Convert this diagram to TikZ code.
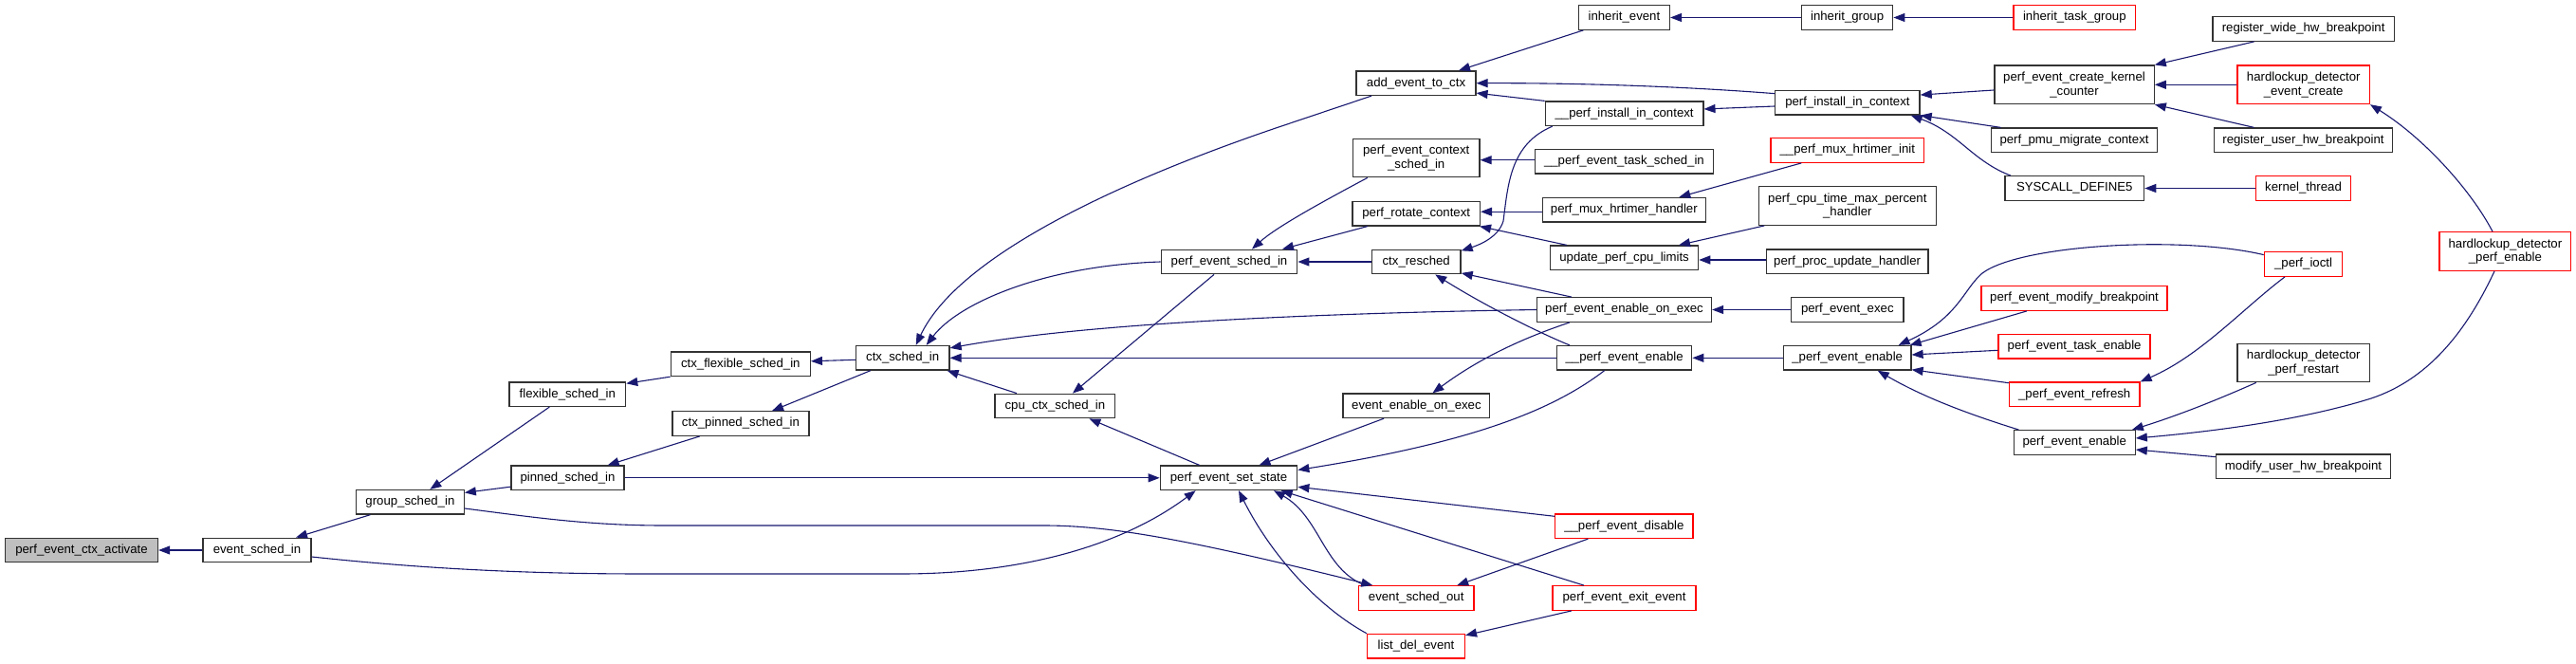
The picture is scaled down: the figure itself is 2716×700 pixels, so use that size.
\documentclass[tikz,border=0pt]{standalone}
\usepackage{fontspec}
\setmainfont{Liberation Sans}
\usetikzlibrary{arrows.meta}
\definecolor{edgecol}{HTML}{191970}
\definecolor{rootgray}{HTML}{BFBFBF}
\definecolor{boxline}{HTML}{333333}
\definecolor{redline}{HTML}{FF0000}
\begin{document}
\begin{tikzpicture}[x=1pt,y=-1pt,
  box/.style={draw=boxline, line width=1.3pt, fill=white, minimum height=25.5pt, inner sep=0pt,
     font=\fontsize{13.2}{14.5}\selectfont, text=black},
  redbox/.style={box, draw=redline},
  rootbox/.style={box, fill=rootgray},
  two/.style={minimum height=40.5pt, align=center},
  edge/.style={draw=edgecol, line width=1.1pt, -{Triangle[length=12pt,width=9pt]}}]
\useasboundingbox (0,0) rectangle (2716,700);
% column 1-8
\node[rootbox, minimum width=161pt] (act) at (86,580) {perf\_event\_ctx\_activate};
\node[box, minimum width=114pt] (esi) at (271,580) {event\_sched\_in};
\node[box, minimum width=113.6pt] (gsi) at (432.4,529.3) {group\_sched\_in};
\node[box, minimum width=122.7pt] (fsi) at (598.3,415.7) {flexible\_sched\_in};
\node[box, minimum width=119pt] (psi) at (598.5,503.8) {pinned\_sched\_in};
\node[box, minimum width=147pt] (cfsi) at (780.8,383.8) {ctx\_flexible\_sched\_in};
\node[box, minimum width=144pt] (cpsi) at (781,446.5) {ctx\_pinned\_sched\_in};
\node[box, minimum width=98.5pt] (csi) at (951.7,377.3) {ctx\_sched\_in};
\node[box, minimum width=126.6pt] (ccsi) at (1112.4,428) {cpu\_ctx\_sched\_in};
\node[box, minimum width=143.5pt] (pess) at (1296,276) {perf\_event\_sched\_in};
\node[box, minimum width=144.4pt] (pest) at (1295.5,503.8) {perf\_event\_set\_state};
% column 9
\node[box, minimum width=125.8pt] (aetc) at (1493,87.7) {add\_event\_to\_ctx};
\node[box, two, minimum width=133.6pt] (pecsi) at (1493.2,166.5) {perf\_event\_context\\\_sched\_in};
\node[box, minimum width=134.4pt] (prc) at (1493.2,225.2) {perf\_rotate\_context};
\node[box, minimum width=93.7pt] (cr) at (1493.2,276) {ctx\_resched};
\node[box, minimum width=154.8pt] (eeoe) at (1493.4,427.8) {event\_enable\_on\_exec};
\node[redbox, minimum width=121.5pt] (eso) at (1493.2,630.5) {event\_sched\_out};
\node[redbox, minimum width=102.8pt] (lde) at (1493,681.2) {list\_del\_event};
% column 10
\node[box, minimum width=96pt] (ie) at (1712.4,18.5) {inherit\_event};
\node[box, minimum width=166.5pt] (upic) at (1712.6,119.8) {\_\_perf\_install\_in\_context};
\node[box, minimum width=187.8pt] (petsi) at (1712.4,170.3) {\_\_perf\_event\_task\_sched\_in};
\node[box, minimum width=172pt] (pmhh) at (1712.3,221.2) {perf\_mux\_hrtimer\_handler};
\node[box, minimum width=156pt] (upcl) at (1712.6,271.8) {update\_perf\_cpu\_limits};
\node[box, minimum width=184pt] (peeoe) at (1712.5,326.5) {perf\_event\_enable\_on\_exec};
\node[box, minimum width=142.2pt] (upee) at (1712.6,377.3) {\_\_perf\_event\_enable};
\node[redbox, minimum width=145.3pt] (upedis) at (1712.4,554.7) {\_\_perf\_event\_disable};
\node[redbox, minimum width=151pt] (peee) at (1712.5,630.5) {perf\_event\_exit\_event};
% column 11
\node[box, minimum width=96.3pt] (ig) at (1947.6,18.5) {inherit\_group};
\node[box, minimum width=152.3pt] (pic) at (1947.9,108.2) {perf\_install\_in\_context};
\node[redbox, minimum width=161.7pt] (pmhi) at (1947.8,158.5) {\_\_perf\_mux\_hrtimer\_init};
\node[box, two, minimum width=186.8pt] (pctmph) at (1947.8,217) {perf\_cpu\_time\_max\_percent\\\_handler};
\node[box, minimum width=170.8pt] (ppuh) at (1947.6,275.8) {perf\_proc\_update\_handler};
\node[box, minimum width=118.4pt] (pee) at (1947.8,326.5) {perf\_event\_exec};
\node[box, minimum width=134.5pt] (pee2) at (1947.7,377.3) {\_perf\_event\_enable};
% column 12
\node[redbox, minimum width=128.4pt] (itg) at (2187.3,18.5) {inherit\_task\_group};
\node[box, two, minimum width=168.3pt] (peckc) at (2187,89.3) {perf\_event\_create\_kernel\\\_counter};
\node[box, minimum width=175.6pt] (ppmc) at (2187,147.8) {perf\_pmu\_migrate\_context};
\node[box, minimum width=146.6pt] (sd5) at (2187.3,198.5) {SYSCALL\_DEFINE5};
\node[redbox, minimum width=196pt] (pemb) at (2187,314.5) {perf\_event\_modify\_breakpoint};
\node[redbox, minimum width=160pt] (pete) at (2187.1,365.3) {perf\_event\_task\_enable};
\node[redbox, minimum width=137.5pt] (per) at (2187.2,415.8) {\_perf\_event\_refresh};
\node[box, minimum width=128pt] (pe) at (2187.2,466.5) {perf\_event\_enable};
% column 13
\node[box, minimum width=191.3pt] (rwhb) at (2428.6,30.5) {register\_wide\_hw\_breakpoint};
\node[redbox, two, minimum width=139.2pt] (hdec) at (2428.7,89.3) {hardlockup\_detector\\\_event\_create};
\node[box, minimum width=188.2pt] (ruhb) at (2428.5,147.8) {register\_user\_hw\_breakpoint};
\node[redbox, minimum width=99.7pt] (kt) at (2428.5,198.5) {kernel\_thread};
\node[redbox, minimum width=82.4pt] (pio) at (2428.5,278.5) {\_perf\_ioctl};
\node[box, two, minimum width=139.2pt] (hdpr) at (2428.7,382.5) {hardlockup\_detector\\\_perf\_restart};
\node[box, minimum width=184pt] (muhb) at (2428.5,491.8) {modify\_user\_hw\_breakpoint};
% column 14
\node[redbox, two, minimum width=138.8pt] (hdpe) at (2641.4,265) {hardlockup\_detector\\\_perf\_enable};

% edges (arrow at callee)
\draw[edge] (esi.west) -- (act.east);
\draw[edge] ([xshift=-42pt]gsi.south) -- ([xshift=41pt]esi.north);
\draw[edge] ([xshift=-19pt]fsi.south) -- ([xshift=21pt]gsi.north);
\draw[edge] ([yshift=4pt]psi.south west) -- ([yshift=-3.5pt]gsi.north east);
\draw[edge] (cfsi.south west) -- ([yshift=-2pt]fsi.north east);
\draw[edge] ([xshift=29.5pt]cpsi.south west) -- ([xshift=-18pt]psi.north east);
\draw[edge] (psi.east) -- (pest.west);
\draw[edge] ([yshift=-7pt]esi.east) .. controls (450,600) and (560,605) .. (680,605) -- (950,605)
   .. controls (1090,605) and (1190,570) .. ([xshift=38pt]pest.south west);
\draw[edge] ([yshift=-6.7pt]gsi.east) .. controls (560,545) and (620,554) .. (700,554) -- (1100,554)
   .. controls (1170,554) and (1250,568) .. ([xshift=15.5pt]eso.north west);
\draw[edge] ([yshift=-2pt]csi.west) -- ([yshift=3pt]cfsi.east);
\draw[edge] ([xshift=16pt]csi.south west) -- ([xshift=33pt]cpsi.north);
\draw[edge] ([xshift=23.5pt]ccsi.north west) -- ([xshift=-3pt]csi.south east);
\draw[edge] ([xshift=-16pt]pess.south) -- ([xshift=18.5pt]ccsi.north);
\draw[edge] ([xshift=42pt]pest.north west) -- ([xshift=36pt]ccsi.south);
\draw[edge] (upee.west) -- (csi.east);
\draw[edge] ([xshift=16.6pt]aetc.south west) -- (1360,130) .. controls (1180,190) and (1010,270) .. ([xshift=14pt]csi.north);
\draw[edge] (pess.west) .. controls (1100,280) and (1010,320) .. ([xshift=25pt]csi.north);
\draw[edge] (peeoe.west) .. controls (1400,330) and (1150,340) .. ([yshift=-3pt]csi.north east);
\draw[edge] ([xshift=16pt]pecsi.south west) .. controls (1390,215) and (1345,240) .. ([xshift=24pt]pess.north);
\draw[edge] ([xshift=16.4pt]prc.south west) -- ([xshift=56pt]pess.north);
\draw[edge] (cr.west) -- (pess.east);
\draw[edge] ([xshift=5.6pt]ie.south west) -- ([xshift=45pt]aetc.north);
\draw[edge] (ig.west) -- (ie.east);
\draw[edge] (itg.west) -- (ig.east);
\draw[edge] ([yshift=-3.85pt]pic.north west) .. controls (1760,90) and (1650,87.5) .. (aetc.east);
\draw[edge] (upic.north west) -- ([yshift=3pt]aetc.south east);
\draw[edge] ([yshift=-3.8pt]pic.west) -- ([yshift=4.8pt]upic.east);
\draw[edge] ([xshift=8pt]upic.south west) .. controls (1592,152) and (1590,195) .. (1585,233)
   .. controls (1580,250) and (1560,258) .. ([yshift=-1.75pt]cr.north east);
\draw[edge] ([yshift=1.6pt]petsi.west) -- ([yshift=-2.2pt]pecsi.east);
\draw[edge] ([yshift=-2pt]pmhh.west) -- ([yshift=2pt]prc.east);
\draw[edge] ([xshift=33pt]pmhi.south west) -- ([xshift=58pt]pmhh.north);
\draw[edge] ([xshift=18pt]upcl.north west) -- ([xshift=-1pt]prc.south east);
\draw[edge] ([xshift=6.6pt]pctmph.south west) -- ([xshift=57.4pt]upcl.north);
\draw[edge] ([yshift=1.8pt]ppuh.west) -- ([yshift=-2.2pt]upcl.east);
\draw[edge] ([yshift=-5.7pt]peckc.west) -- ([yshift=-5.25pt]pic.north east);
\draw[edge] ([xshift=11pt]ppmc.north west) -- (pic.south east);
\draw[edge] ([xshift=6.6pt]sd5.north west) .. controls (2080,170) and (2065,140) .. ([xshift=-10pt]pic.south east);
\draw[edge] ([xshift=-55.5pt]peeoe.north) -- ([yshift=1.5pt]cr.south east);
\draw[edge] ([xshift=-57.6pt]upee.north) .. controls (1630,354) and (1570,325) .. ([xshift=20pt]cr.south);
\draw[edge] (pee.west) -- (peeoe.east);
\draw[edge] ([xshift=-57.5pt]peeoe.south) .. controls (1625,350) and (1570,370) .. ([xshift=17pt]eeoe.north);
\draw[edge] (pee2.west) -- (upee.east);
\draw[edge] ([xshift=43.7pt]eeoe.south west) -- ([xshift=32pt]pest.north);
\draw[edge] ([xshift=-21pt]upee.south) .. controls (1640,430) and (1560,465) .. ([yshift=8.3pt]pest.east);
\draw[edge] ([yshift=-3pt]upedis.north west) -- ([yshift=-9.5pt]pest.east);
\draw[edge] ([xshift=-42.5pt]peee.north) -- ([xshift=-17.7pt]pest.south east);
\draw[edge] ([xshift=-38pt]upedis.south) -- ([xshift=-18.4pt]eso.north east);
\draw[edge] ([xshift=-55.5pt]peee.south) -- ([yshift=-2pt]lde.north east);
\draw[edge] (lde.north west) .. controls (1390,640) and (1340,585) .. ([xshift=10.5pt]pest.south);
\draw[edge] ([xshift=7.5pt]eso.north west) .. controls (1395,600) and (1392,545) .. ([xshift=47.5pt]pest.south);
\draw[edge] ([yshift=-3.5pt]pio.north west) .. controls (2300,248) and (2130,258) .. (2090,288)
   .. controls (2070,305) and (2065,335) .. ([xshift=-14pt]pee2.north east);
\draw[edge] ([xshift=-50pt]pemb.south) -- ([xshift=-2pt]pee2.north east);
\draw[edge] ([yshift=-4pt]pete.west) -- ([yshift=3.3pt]pee2.east);
\draw[edge] ([yshift=-1.3pt]per.north west) -- ([yshift=1pt]pee2.south east);
\draw[edge] ([xshift=6pt]pe.north west) .. controls (2080,438) and (2030,420) .. ([xshift=32pt]pee2.south);
\draw[edge] ([xshift=-52pt]rwhb.south) -- (peckc.north east);
\draw[edge] (hdec.west) -- (peckc.east);
\draw[edge] ([xshift=-52pt]ruhb.north) -- (peckc.south east);
\draw[edge] ([xshift=-13.4pt]hdpe.north) .. controls (2605,200) and (2555,145) .. (hdec.south east);
\draw[edge] (kt.west) -- (sd5.east);
\draw[edge] ([xshift=-19.5pt]pio.south) .. controls (2365,325) and (2320,375) .. (per.north east);
\draw[edge] ([xshift=-50pt]hdpr.south) .. controls (2330,425) and (2290,440) .. ([xshift=-4pt]pe.north east);
\draw[edge] ([xshift=-11.4pt]hdpe.south) .. controls (2600,350) and (2560,400) .. (2500,420)
   .. controls (2420,445) and (2320,456) .. ([yshift=4.5pt]pe.east);
\draw[edge] ([yshift=-3.25pt]muhb.north west) -- ([yshift=-7.5pt]pe.east);
\end{tikzpicture}
\end{document}
